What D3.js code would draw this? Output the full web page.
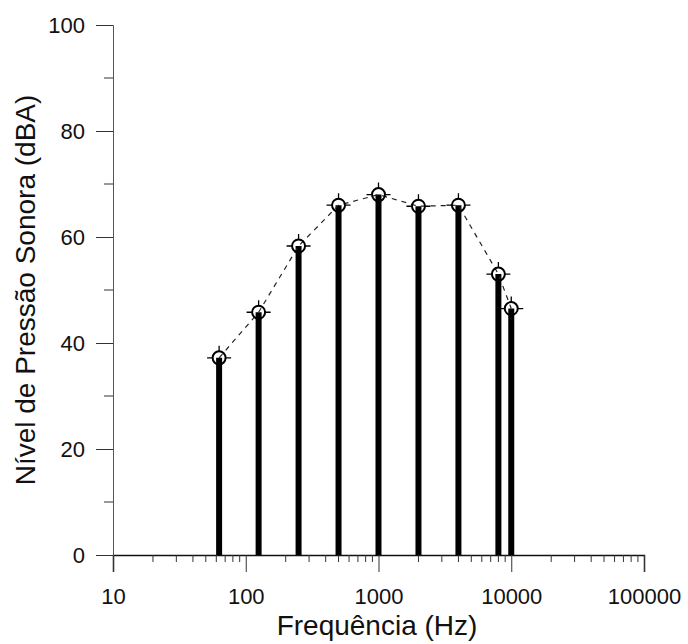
<!DOCTYPE html>
<html>
<head>
<meta charset="utf-8">
<script src="https://cdn.jsdelivr.net/npm/d3@7"></script>
<style>
  body { margin: 0; background: #fff; }
  text { font-family: "Liberation Sans", Arial, sans-serif; fill: #111; }
</style>
</head>
<body>
<div id="chart"></div>
<script>
// data
const freqs = [63, 125, 250, 500, 1000, 2000, 4000, 8000, 10000];
const levels = [37.2, 45.8, 58.3, 66, 68, 65.8, 66, 53, 46.5];
const xTickValues = [10, 100, 1000, 10000, 100000];
const yTickValues = [0, 20, 40, 60, 80, 100];

const width = 688;
const height = 644;
const margin = { top: 25, right: 44, bottom: 89, left: 113 };

const data = freqs.map((f, i) => ({ f: f, v: levels[i] }));

const x = d3
  .scaleLog()
  .domain([10, 100000])
  .range([margin.left, width - margin.right]);
const y = d3
  .scaleLinear()
  .domain([0, 100])
  .range([height - margin.bottom, margin.top]);

const svg = d3
  .select("#chart")
  .append("svg")
  .attr("width", width)
  .attr("height", height);

// minor ticks on the log axis
const minorX = [];
for (let d = 10; d < 100000; d *= 10) {
  for (let k = 2; k <= 9; k++) minorX.push(d * k);
}

const xAxis = svg
  .append("g")
  .attr("transform", `translate(0, ${y(0)})`)
  .call(d3.axisBottom(x).tickValues(xTickValues).tickSize(17).tickPadding(16).tickFormat(d3.format("d")));
xAxis.select(".domain").attr("stroke", "#111").attr("stroke-width", 1.5);
xAxis.selectAll(".tick line").attr("stroke", "#333");
xAxis.selectAll(".tick text").attr("font-size", 22).attr("dy", "0.71em");

svg
  .append("g")
  .selectAll("line")
  .data(minorX)
  .enter()
  .append("line")
  .attr("x1", (d) => x(d))
  .attr("x2", (d) => x(d))
  .attr("y1", y(0))
  .attr("y2", y(0) + 7)
  .attr("stroke", "#333");

const yAxis = svg
  .append("g")
  .attr("transform", `translate(${margin.left}, 0)`)
  .call(d3.axisLeft(y).tickValues(yTickValues).tickSize(17).tickPadding(11));
yAxis.select(".domain").attr("stroke", "#555").attr("stroke-width", 1);
yAxis.selectAll(".tick line").attr("stroke", "#333");
yAxis.selectAll(".tick text").attr("font-size", 22);

svg
  .append("g")
  .selectAll("line")
  .data([10, 30, 50, 70, 90])
  .enter()
  .append("line")
  .attr("x1", margin.left - 9)
  .attr("x2", margin.left)
  .attr("y1", (d) => y(d))
  .attr("y2", (d) => y(d))
  .attr("stroke", "#333");

// bars
svg
  .append("g")
  .selectAll("line")
  .data(data)
  .enter()
  .append("line")
  .attr("x1", (d) => x(d.f))
  .attr("x2", (d) => x(d.f))
  .attr("y1", y(0))
  .attr("y2", (d) => y(d.v))
  .attr("stroke", "#000")
  .attr("stroke-width", 6);

// dashed line through the points
svg
  .append("path")
  .datum(data)
  .attr("fill", "none")
  .attr("stroke", "#222")
  .attr("stroke-width", 1.2)
  .attr("stroke-dasharray", "5,5")
  .attr("d", d3.line().x((d) => x(d.f)).y((d) => y(d.v)));

// markers: open circle with crosshair
const marks = svg
  .append("g")
  .selectAll("g")
  .data(data)
  .enter()
  .append("g")
  .attr("transform", (d) => `translate(${x(d.f)}, ${y(d.v)})`);
marks
  .append("circle")
  .attr("r", 6.5)
  .attr("fill", "none")
  .attr("stroke", "#000")
  .attr("stroke-width", 2);
marks
  .append("path")
  .attr("d", "M-12,0H-6M6,0H12M0,-12V-6")
  .attr("stroke", "#000")
  .attr("stroke-width", 1.3);

// axis titles
svg
  .append("text")
  .attr("x", 377)
  .attr("y", 635)
  .attr("text-anchor", "middle")
  .attr("font-size", 28)
  .text("Frequência (Hz)");

svg
  .append("text")
  .attr("transform", `translate(35, ${y(50) + 0}) rotate(-90)`)
  .attr("text-anchor", "middle")
  .attr("font-size", 28)
  .text("Nível de Pressão Sonora (dBA)");
</script>
</body>
</html>
